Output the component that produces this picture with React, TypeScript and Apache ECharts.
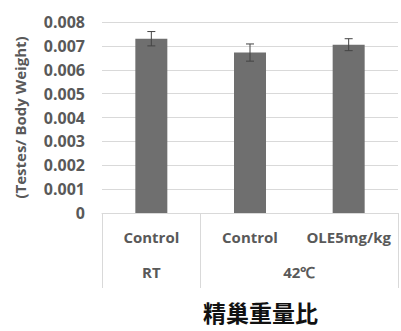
import React, { useEffect, useRef } from "react";
import * as echarts from "echarts";

const categories = ["Control", "Control", "OLE5mg/kg"];
const groups = ["RT", "42℃"];
const values = [0.0073, 0.00672, 0.00705];
const errors = [0.0003, 0.00036, 0.00025];
const yTicks = [0, 0.001, 0.002, 0.003, 0.004, 0.005, 0.006, 0.007, 0.008];
const chartTitle = "精巢重量比";

const FONT = "'Open Sans', 'Liberation Sans', Arial, sans-serif";
const GRAY = "#595959";

export default function App() {
  const ref = useRef<HTMLDivElement>(null);
  useEffect(() => {
    const chart = echarts.init(ref.current!, null, { renderer: "svg" });
    chart.setOption({
      animation: false,
      backgroundColor: "#ffffff",
      grid: { left: 102, top: 22, width: 300, height: 191 },
      xAxis: [
        {
          type: "category",
          data: categories,
          axisLine: { show: true, lineStyle: { color: "#d9d9d9", width: 1 } },
          axisTick: {
            show: true,
            length: 75,
            interval: (i: number) => i === 0 || i === 1,
            lineStyle: { color: "#d9d9d9" },
          },
          axisLabel: {
            interval: 0,
            margin: 16,
            fontFamily: FONT,
            fontWeight: "bold",
            fontSize: 15,
            color: GRAY,
          },
        },
        {
          type: "value",
          position: "bottom",
          min: 0,
          max: 3,
          interval: 0.5,
          axisLine: { show: false },
          axisTick: { show: false },
          splitLine: { show: false },
          axisLabel: {
            margin: 51,
            fontFamily: FONT,
            fontWeight: "bold",
            fontSize: 15,
            color: GRAY,
            formatter: (v: number) =>
              Math.abs(v - 0.5) < 1e-6 ? groups[0] : Math.abs(v - 2) < 1e-6 ? groups[1] : "",
          },
        },
      ],
      yAxis: {
        type: "value",
        min: 0,
        max: yTicks[yTicks.length - 1],
        interval: 0.001,
        name: "(Testes/ Body Weight)",
        nameLocation: "middle",
        nameGap: 75,
        nameRotate: 90,
        nameTextStyle: {
          fontFamily: FONT,
          fontWeight: "bold",
          fontSize: 15,
          color: GRAY,
        },
        axisLine: { show: false },
        axisTick: { show: false },
        splitLine: { lineStyle: { color: "#d9d9d9" } },
        axisLabel: {
          margin: 17,
          fontFamily: FONT,
          fontWeight: "bold",
          fontSize: 16,
          color: GRAY,
          formatter: (v: number) => (v === 0 ? "0" : v.toFixed(3)),
        },
      },
      graphic: [
        {
          type: "text",
          left: 261 - 58,
          top: 300,
          style: {
            text: chartTitle,
            fontFamily: "'Noto Sans CJK JP', sans-serif",
            fontWeight: "bold",
            fontSize: 23,
            fill: "#111111",
          },
        },
      ],
      series: [
        {
          type: "bar",
          data: values,
          barWidth: 32,
          itemStyle: { color: "#6f6f6f" },
          xAxisIndex: 0,
        },
        {
          type: "custom",
          xAxisIndex: 0,
          data: values.map((v, i) => [i, v - errors[i], v + errors[i]]),
          renderItem: (params: any, api: any) => {
            const x = api.coord([api.value(0), api.value(1)])[0];
            const lo = api.coord([api.value(0), api.value(1)])[1];
            const hi = api.coord([api.value(0), api.value(2)])[1];
            const style = { stroke: "#444444", lineWidth: 1 };
            return {
              type: "group",
              children: [
                { type: "line", shape: { x1: x, y1: lo, x2: x, y2: hi }, style },
                { type: "line", shape: { x1: x - 4, y1: hi, x2: x + 4, y2: hi }, style },
                { type: "line", shape: { x1: x - 4, y1: lo, x2: x + 4, y2: lo }, style },
              ],
            };
          },
          z: 5,
        },
      ],
    });
    return () => chart.dispose();
  }, []);
  return (
    <div
      ref={ref}
      style={{ position: "fixed", left: 0, top: 0, width: 401, height: 331 }}
    />
  );
}
